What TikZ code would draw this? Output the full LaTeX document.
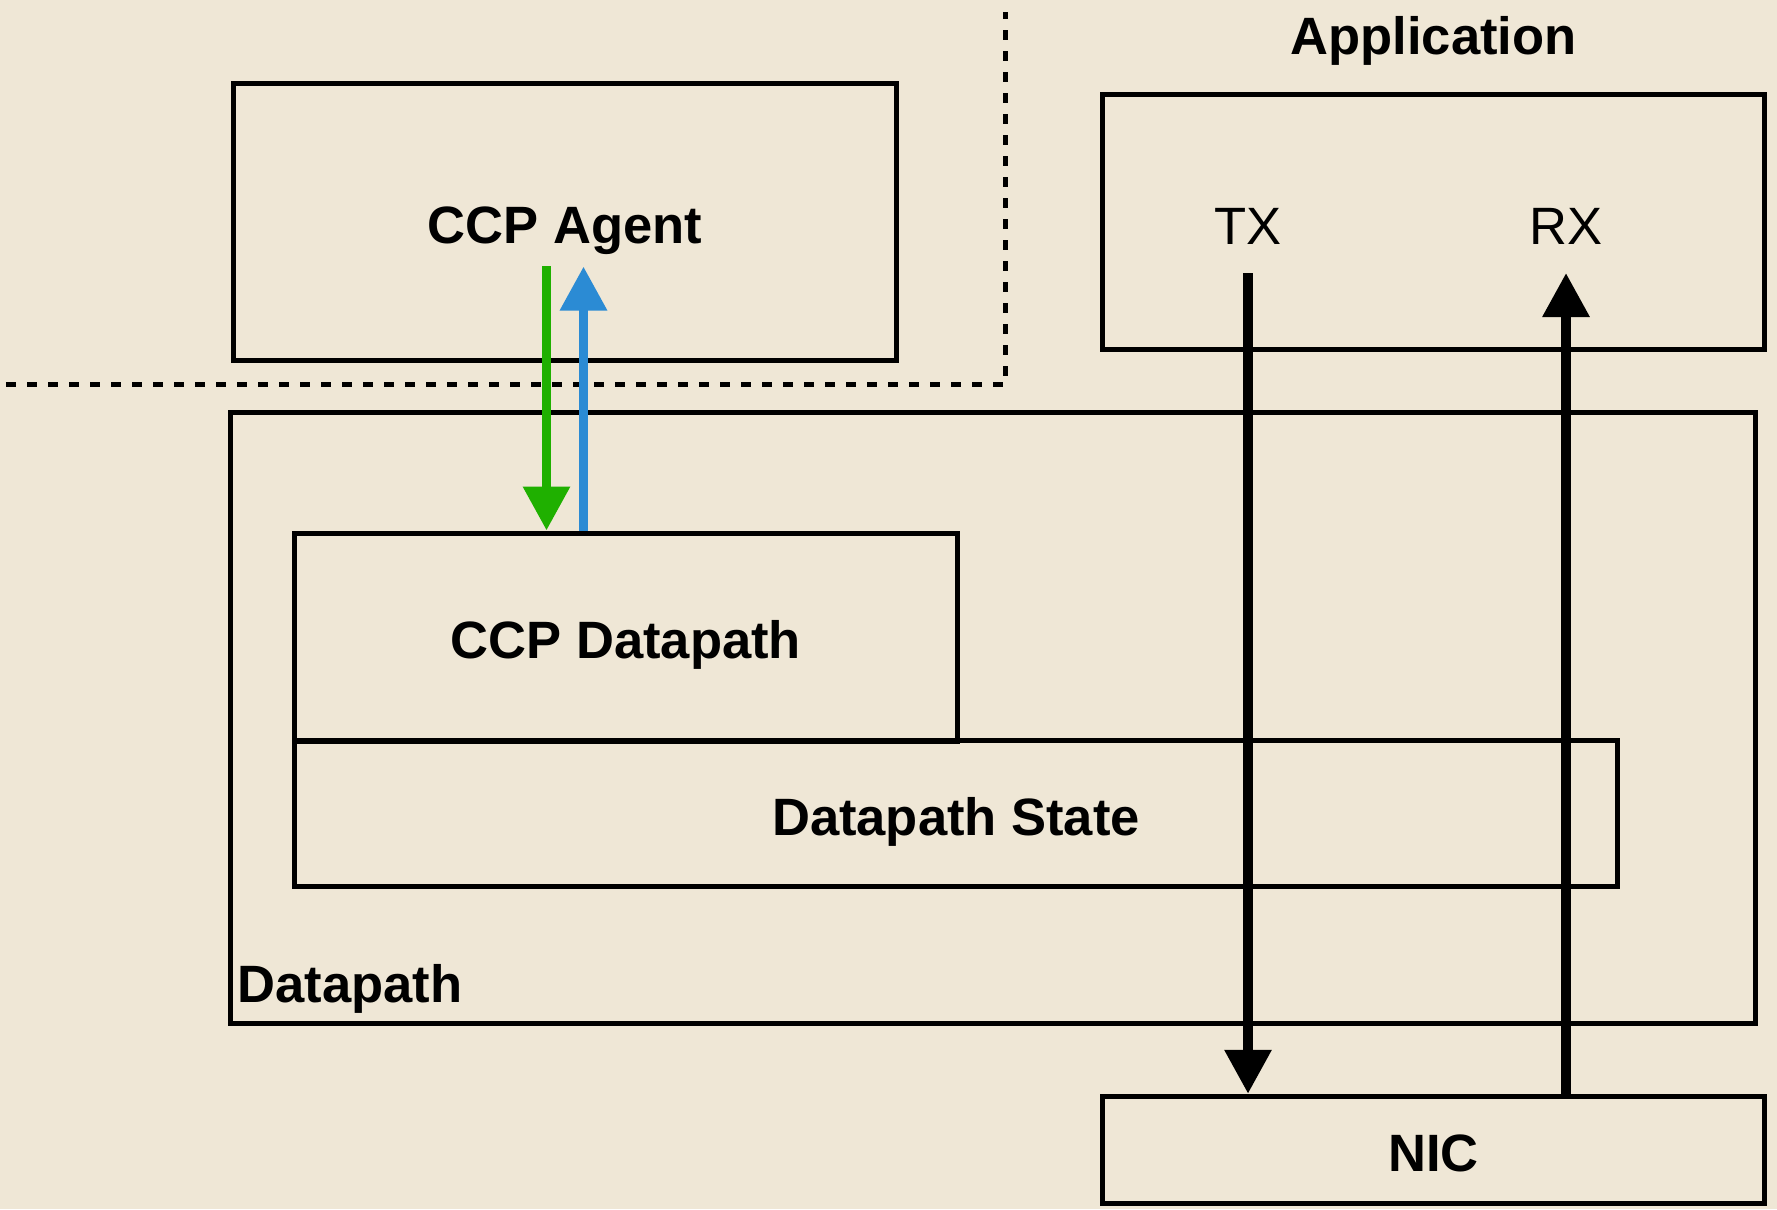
\documentclass[tikz,border=0pt]{standalone}
\usepackage{fontspec}
\setmainfont{Liberation Sans}
\usetikzlibrary{arrows.meta}

\definecolor{paper}{RGB}{239,231,214}
\definecolor{ccpgreen}{RGB}{31,176,0}
\definecolor{ccpblue}{RGB}{43,139,212}

\newcommand{\boxfont}{\fontsize{29.9}{36}\selectfont}

\tikzset{
  box/.style={draw, line width=0.1cm, inner sep=0pt, minimum width=13.26cm,
    text height=24.8pt, text depth=0pt, font=\boxfont\bfseries},
  tag/.style={inner sep=0pt, font=\boxfont},
  flow/.style={line width=0.19cm, -{Triangle[width=0.9cm,length=0.88cm]}},
  border/.style={line width=0.1cm, dash pattern=on 0.2cm off 0.22cm},
}

\begin{document}
\begin{tikzpicture}
\fill[paper] (0,0) rectangle (35.54,-24.18); % page

% user space
\node[box, minimum height=5.54cm] (agent) at (11.30,-4.43) {CCP Agent};

% kernel side
\node[box, minimum width=30.51cm, minimum height=12.21cm] (dp) at (19.855,-14.355) {};
\node[tag, font=\boxfont\bfseries, anchor=west] (dplabel) at (4.74,-19.78) {Datapath};
\node[box, minimum height=4.16cm] (ccpdp) at (12.52,-12.74) {CCP Datapath};
\node[box, minimum width=26.45cm, minimum height=2.91cm] (state) at (19.12,-16.27) {Datapath State};

% application and nic
\node[tag, font=\boxfont\bfseries] (apptitle) at (28.67,-0.81) {Application};
\node[box, minimum width=13.24cm, minimum height=5.10cm] (app) at (28.67,-4.43) {};
\node[tag] (tx) at (24.96,-4.53) {TX};
\node[tag] (rx) at (31.32,-4.53) {RX};
\node[box, minimum width=13.24cm, minimum height=2.15cm] (nic) at (28.67,-23.0) {NIC};

% the dotted border
\draw[border] (0.12,-7.69) -- (20.1,-7.69) -- (20.1,-0.24);

% agent <-> datapath
\coordinate (down) at (10.93,-5.32);
\coordinate (up) at (11.67,-5.33);
\draw[flow, ccpgreen] (down) -- (down |- ccpdp.north);
\draw[flow, ccpblue] (up |- ccpdp.north) -- (up);

% packets
\coordinate (txend) at (24.96,-5.46);
\coordinate (rxend) at (31.32,-5.46);
\draw[flow] (txend) -- (txend |- nic.north);
\draw[flow] (rxend |- nic.north) -- (rxend);
\end{tikzpicture}
\end{document}
